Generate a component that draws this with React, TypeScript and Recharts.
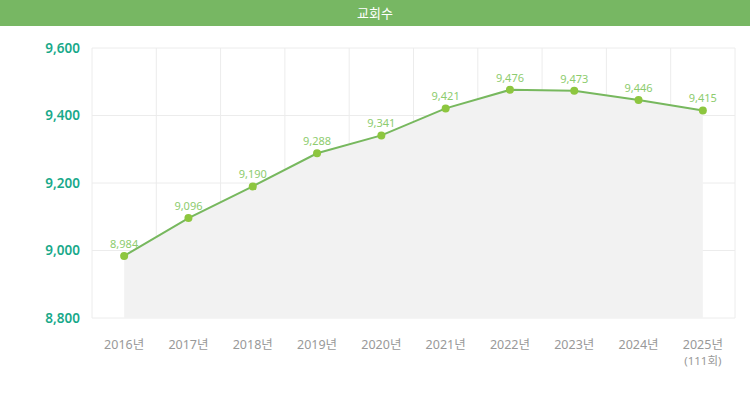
import {
  ComposedChart,
  Area,
  Line,
  XAxis,
  YAxis,
  CartesianGrid,
  LabelList,
} from "recharts";

const years = ["2016년", "2017년", "2018년", "2019년", "2020년", "2021년", "2022년", "2023년", "2024년", "2025년"];
const subLabels = ["", "", "", "", "", "", "", "", "", "(111회)"];
const churches = [8984, 9096, 9190, 9288, 9341, 9421, 9476, 9473, 9446, 9415];
const yTicks = [8800, 9000, 9200, 9400, 9600];

const data = years.map((year, i) => ({ year, sub: subLabels[i], value: churches[i] }));

const FONT = "'Noto Sans', 'Noto Sans CJK KR', sans-serif";

function YearTick(props: any) {
  const { x, y, index } = props;
  const sub = subLabels[index];
  return (
    <g transform={`translate(${x},${y})`}>
      <text x={0} y={0} dy={23} textAnchor="middle" fill="#999" fontSize={12.5} fontFamily={FONT}>
        {years[index]}
      </text>
      {sub && (
        <text x={0} y={0} dy={39} textAnchor="middle" fill="#999" fontSize={11.5} fontFamily={FONT}>
          {sub}
        </text>
      )}
    </g>
  );
}

export default function App() {
  return (
    <div style={{ width: 750, height: 400, background: "#fff", fontFamily: FONT }}>
      <style>{"body{margin:0}"}</style>
      <div
        style={{
          height: 26,
          background: "#77b763",
          color: "#fff",
          fontSize: 13,
          lineHeight: "26px",
          textAlign: "center",
        }}
      >
        교회수
      </div>
      <ComposedChart
        width={750}
        height={374}
        data={data}
        margin={{ top: 22, right: 15, left: 0, bottom: 42 }}
      >
        <CartesianGrid
          stroke="#ececec"
          verticalCoordinatesGenerator={({ offset }: any) =>
            Array.from({ length: years.length + 1 }, (_, i) => offset.left + (i * offset.width) / years.length)
          }
        />
        <XAxis
          dataKey="year"
          scale="band"
          axisLine={false}
          tickLine={false}
          height={40}
          interval={0}
          tick={<YearTick />}
        />
        <YAxis
          domain={[8800, 9600]}
          ticks={yTicks}
          width={92}
          axisLine={false}
          tickLine={false}
          tickMargin={6}
          tickFormatter={(v: number) => v.toLocaleString("en-US")}
          tick={{ fill: "#19a98a", fontSize: 13.5, fontWeight: 600, fontFamily: FONT }}
        />
        <Area
          dataKey="value"
          type="linear"
          fill="#f2f2f2"
          fillOpacity={1}
          stroke="none"
          isAnimationActive={false}
        />
        <Line
          dataKey="value"
          type="linear"
          stroke="#77b85e"
          strokeWidth={2}
          dot={{ r: 4, fill: "#8dc63f", stroke: "none" }}
          activeDot={false}
          isAnimationActive={false}
        >
          <LabelList
            dataKey="value"
            position="top"
            offset={8}
            formatter={(v: any) => Number(v).toLocaleString("en-US")}
            style={{ fill: "#8dcc6e", fontSize: 11, fontFamily: FONT }}
          />
        </Line>
      </ComposedChart>
    </div>
  );
}
